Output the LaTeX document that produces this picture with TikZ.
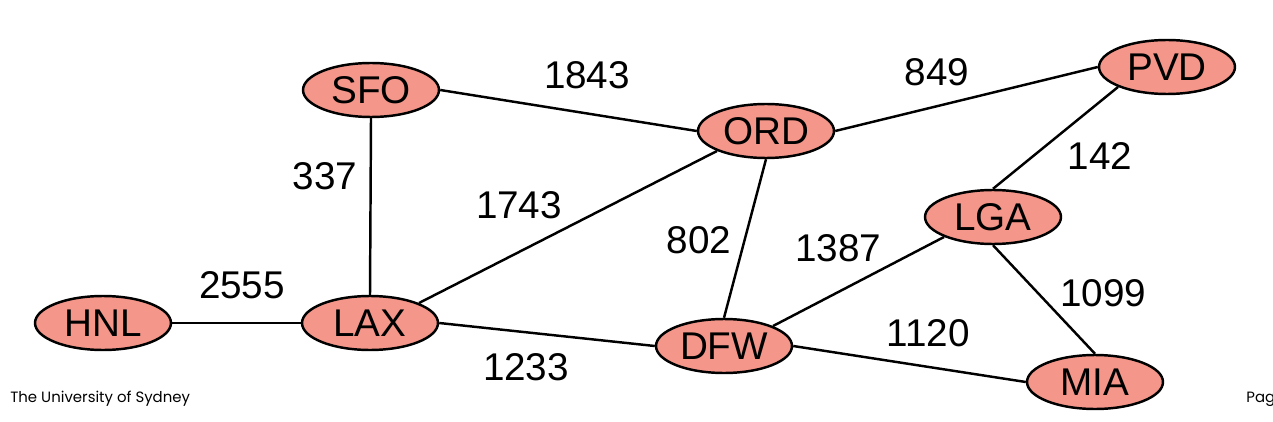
\documentclass[tikz,border=0pt]{standalone}
\usepackage{fontspec}
\setmainfont{Liberation Sans}
\newfontfamily\footfont{Poppins}
\usetikzlibrary{shapes.geometric}
\definecolor{salmon}{HTML}{F4968A}
\tikzstyle{airport} = [ellipse, draw=black, fill=salmon, line width=1.4pt, minimum width=2.72cm, minimum height=1.08cm, inner sep=0pt, font=\fontsize{22}{24}\selectfont]
\tikzstyle{dist} = [font=\fontsize{22}{24}\selectfont, inner sep=0pt]
\tikzstyle{route} = [line width=1.4pt]
\tikzstyle{foot} = [font=\footfont\fontsize{8.5}{10}\selectfont, inner sep=0pt, anchor=base west]

\begin{document}
\begin{tikzpicture}[x=0.02cm, y=-0.02cm]
\useasboundingbox (0,0) rectangle (1273,422);

\node (sfo) [airport] at (371,90) {SFO};
\node (ord) [airport] at (766,131) {ORD};
\node (pvd) [airport] at (1167,67) {PVD};
\node (lga) [airport] at (993,217) {LGA};
\node (hnl) [airport] at (103,323) {HNL};
\node (lax) [airport] at (370,323) {LAX};
\node (dfw) [airport] at (724,346) {DFW};
\node (mia) [airport] at (1095,382) {MIA};

\draw [route] (sfo.east) -- (ord.west);
\draw [route] (ord.east) -- (pvd.west);
\draw [route] (sfo.south) -- (lax.north);
\draw [route] (lax.north east) -- (ord.south west);
\draw [route] (ord.south) -- (dfw.north);
\draw [route] (dfw.north east) -- (lga.south west);
\draw [route] (pvd.south west) -- (lga.north);
\draw [route] (hnl.east) -- (lax.west);
\draw [route] (lax.east) -- (dfw.west);
\draw [route] (dfw.east) -- (mia.west);
\draw [route] (lga.south) -- (mia.north);

\node (d1843) [dist] at (587,75) {1843};
\node (d849) [dist] at (937,72) {849};
\node (d337) [dist] at (325,176) {337};
\node (d1743) [dist] at (519,205) {1743};
\node (d802) [dist] at (699,240) {802};
\node (d1387) [dist] at (838,248) {1387};
\node (d142) [dist] at (1100,156) {142};
\node (d2555) [dist] at (242,285) {2555};
\node (d1099) [dist] at (1103,293) {1099};
\node (d1120) [dist] at (928,333) {1120};
\node (d1233) [dist] at (526,367) {1233};

\node (uni) [foot] at (10,402) {The University of Sydney};
\node (page) [foot] at (1246,402) {Pag};

\end{tikzpicture}
\end{document}
